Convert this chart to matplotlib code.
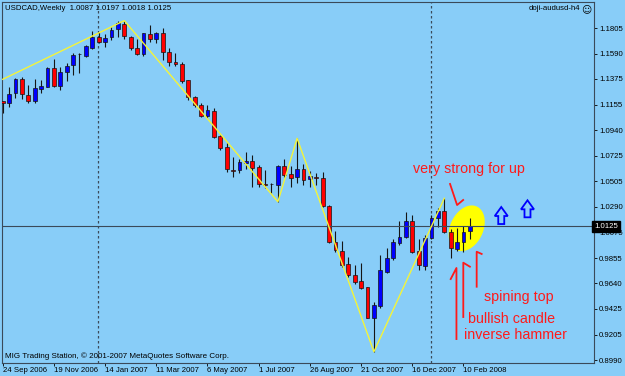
import matplotlib
matplotlib.use("Agg")
import matplotlib.pyplot as plt
from matplotlib.patches import Polygon
import numpy as np

plt.rcParams['font.family'] = ['Liberation Sans', 'DejaVu Sans']

# USDCAD weekly bars, 24 Sep 2006 .. 17 Feb 2008
opens = [1.1184, 1.1174, 1.1253, 1.1372, 1.1239, 1.1188, 1.1292, 1.1309, 1.1465, 1.1318,
         1.1432, 1.1494, 1.1583, 1.1570, 1.1635, 1.1729, 1.1686, 1.1729, 1.1797, 1.1841,
         1.1729, 1.1635, 1.1584, 1.1757, 1.1717, 1.1763, 1.1606, 1.1522, 1.1502, 1.1362,
         1.1219, 1.1154, 1.1063, 1.1106, 1.0894, 1.0795, 1.0602, 1.0602, 1.0659, 1.0679,
         1.0630, 1.0484, 1.0482, 1.0475, 1.0639, 1.0566, 1.0539, 1.0608, 1.0524, 1.0545,
         1.0537, 1.0299, 0.9989, 0.9918, 0.9802, 0.9711, 0.9663, 0.9607, 0.9349, 0.9451,
         0.9739, 0.9853, 0.9985, 1.0036, 1.0170, 0.9915, 0.9790, 1.0023, 1.0198, 1.0254,
         1.0074, 0.9932, 0.9989, 1.0087]
highs = [1.1191, 1.1304, 1.1381, 1.1394, 1.1324, 1.1372, 1.1366, 1.1474, 1.1542, 1.1474,
         1.1508, 1.1593, 1.1593, 1.1663, 1.1785, 1.1776, 1.1757, 1.1813, 1.1867, 1.1870,
         1.1740, 1.1712, 1.1768, 1.1829, 1.1776, 1.1808, 1.1635, 1.1593, 1.1522, 1.1366,
         1.1230, 1.1168, 1.1154, 1.1126, 1.0899, 1.0829, 1.0710, 1.0693, 1.0753, 1.0730,
         1.0645, 1.0602, 1.0495, 1.0645, 1.0693, 1.0636, 1.0871, 1.0652, 1.0594, 1.0574,
         1.0583, 1.0305, 1.0085, 1.0000, 0.9867, 0.9796, 0.9811, 0.9612, 0.9485, 0.9881,
         0.9943, 1.0017, 1.0170, 1.0243, 1.0221, 1.0017, 1.0051, 1.0221, 1.0282, 1.0362,
         1.0102, 1.0113, 1.0130, 1.0197]
lows = [1.1084, 1.1140, 1.1211, 1.1202, 1.1174, 1.1168, 1.1253, 1.1304, 1.1304, 1.1281,
        1.1358, 1.1409, 1.1423, 1.1564, 1.1627, 1.1678, 1.1644, 1.1706, 1.1734, 1.1712,
        1.1621, 1.1578, 1.1572, 1.1689, 1.1678, 1.1536, 1.1488, 1.1488, 1.1338, 1.1197,
        1.1135, 1.1055, 1.1041, 1.0871, 1.0772, 1.0588, 1.0545, 1.0580, 1.0611, 1.0461,
        1.0461, 1.0447, 1.0405, 1.0333, 1.0540, 1.0461, 1.0492, 1.0479, 1.0461, 1.0475,
        1.0291, 0.9980, 0.9909, 0.9782, 0.9697, 0.9632, 0.9592, 0.9344, 0.9060, 0.9429,
        0.9726, 0.9839, 0.9966, 1.0023, 0.9895, 0.9754, 0.9754, 1.0017, 1.0121, 1.0065,
        0.9858, 0.9915, 0.9909, 1.0018]
closes = [1.1171, 1.1247, 1.1372, 1.1247, 1.1191, 1.1296, 1.1315, 1.1465, 1.1315, 1.1432,
          1.1488, 1.1576, 1.1585, 1.1655, 1.1729, 1.1686, 1.1723, 1.1791, 1.1847, 1.1740,
          1.1635, 1.1587, 1.1763, 1.1712, 1.1763, 1.1600, 1.1516, 1.1500, 1.1360, 1.1225,
          1.1154, 1.1063, 1.1112, 1.0885, 1.0792, 1.0611, 1.0594, 1.0673, 1.0679, 1.0622,
          1.0484, 1.0475, 1.0486, 1.0639, 1.0557, 1.0537, 1.0608, 1.0518, 1.0551, 1.0532,
          1.0297, 0.9994, 0.9923, 0.9796, 0.9711, 0.9654, 0.9604, 0.9349, 0.9457, 0.9754,
          0.9858, 0.9989, 1.0034, 1.0170, 0.9904, 0.9796, 1.0023, 1.0193, 1.0254, 1.0074,
          0.9938, 0.9989, 1.0079, 1.0125]

date_labels = ["24 Sep 2006", "19 Nov 2006", "14 Jan 2007", "11 Mar 2007", "6 May 2007",
               "1 Jul 2007", "26 Aug 2007", "21 Oct 2007", "16 Dec 2007", "10 Feb 2008"]
price_ticks = [1.1805, 1.1590, 1.1375, 1.1155, 1.0940, 1.0725, 1.0505, 1.0290,
               1.0075, 0.9855, 0.9640, 0.9425, 0.9205, 0.8990]

# zigzag indicator vertices (bar index, price)
zz_idx = [0, 19, 43, 46, 58, 69]
zz_val = [1.1372, 1.1870, 1.0333, 1.0871, 0.9060, 1.0362]

year_starts = [15, 67]   # period separators
last_price = 1.0125

bg = '#88cdf8'
frame = '#3a4a5a'

W, H = 625, 376
fig = plt.figure(figsize=(W / 100, H / 100), dpi=100, facecolor=bg)
ax_l, ax_r, ax_t, ax_b = 1.7, 594.3, 2.0, 362.5
ax = fig.add_axes([ax_l / W, 1 - ax_b / H, (ax_r - ax_l) / W, (ax_b - ax_t) / H])
ax.set_facecolor(bg)
ax.set_xlim(-0.156, 92.44)
ax.set_ylim(0.8969, 1.2028)

# px -> data scale, for drawing shapes in screen proportions
sx = (92.44 + 0.156) / (ax_r - ax_l)
sy = (1.2028 - 0.8969) / (ax_b - ax_t)

# highlight ellipse behind the last candles
t = np.linspace(0, 2 * np.pi, 100)
a, b, ang = 24, 16.5, np.radians(65)
ex = a * np.cos(t) * np.cos(ang) - b * np.sin(t) * np.sin(ang)
ey = a * np.cos(t) * np.sin(ang) + b * np.sin(t) * np.cos(ang)
ax.fill(72.5 + ex * sx, 1.0108 + ey * sy, color='#ffff00', lw=0, zorder=1)

# separators and bid line
for xs in year_starts:
    ax.axvline(xs - 0.15, color=frame, lw=0.9, ls=(0, (2, 2)), zorder=2)
ax.axhline(last_price, color=frame, lw=0.8, zorder=4)

# candles
x = np.arange(len(opens))
o = np.array(opens); c = np.array(closes)
up = c >= o
ax.vlines(x, lows, highs, color='#151515', lw=0.8, zorder=3)
ax.bar(x, np.abs(c - o), bottom=np.minimum(o, c), width=0.62,
       color=np.where(up, '#0000ff', '#ff0000'), edgecolor='#151515', lw=0.5, zorder=3)

# zigzag
ax.plot(zz_idx, zz_val, color='#f4f43a', lw=1.0, zorder=5)

# blue hollow up arrows
shape = np.array([(-3, 0), (3, 0), (3, 8), (6.5, 8), (0, 17), (-6.5, 8), (-3, 8)])
for ax_x, base in [(77.9, 1.0144), (82.0, 1.0201)]:
    pts = np.column_stack([ax_x + shape[:, 0] * sx, base + shape[:, 1] * sy])
    ax.add_patch(Polygon(pts, closed=True, fill=False, ec='#0000ff', lw=1.3, zorder=6))

# red hand-drawn marks
red = '#ff1a1a'
ax.plot([69.9, 71.0, 71.95], [1.0484, 1.0305, 1.0348], color=red, lw=1.3, zorder=6)
ax.plot([70.0, 70.9, 70.9], [0.9677, 0.9771, 0.9168], color=red, lw=1.3, zorder=6)
ax.plot([73.0, 71.97, 71.97], [0.9782, 0.9816, 0.9355], color=red, lw=1.3, zorder=6)
ax.plot([74.84, 74.06, 74.06], [0.9890, 0.9909, 0.9612], color=red, lw=1.3, zorder=6)

ax.text(64.1, 1.0574, "very strong for up", color=red, fontsize=10.3, va='baseline', zorder=7)
ax.text(75.2, 0.9491, "spining top", color=red, fontsize=10.3, va='baseline', zorder=7)
ax.text(72.7, 0.9301, "bullish candle", color=red, fontsize=10.3, va='baseline', zorder=7)
ax.text(72.1, 0.9166, "inverse hammer", color=red, fontsize=10.3, va='baseline', zorder=7)

# axes styling
for s in ax.spines.values():
    s.set_color(frame)
    s.set_linewidth(0.8)
ax.yaxis.tick_right()
ax.set_yticks(price_ticks)
ax.set_yticklabels([f"{v:.4f}" for v in price_ticks])
ax.set_xticks(np.arange(0, 8 * len(date_labels), 8))
ax.set_xticklabels(date_labels, ha='left')
ax.tick_params(axis='both', labelsize=5.6, length=2.2, width=0.6, color='black', pad=1.2)

ax.text(1.0, last_price, f"{last_price:.4f}", transform=ax.get_yaxis_transform(),
        color='white', fontsize=5.6, va='center', ha='left', zorder=8,
        bbox=dict(boxstyle='square,pad=0.25', fc='black', ec='black'))

fig.text(5 / W, 1 - 8.5 / H, "USDCAD,Weekly  1.0087 1.0197 1.0018 1.0125",
         fontsize=5.6, va='center', ha='left')
fig.text(580 / W, 1 - 9 / H, "doji-audusd-h4", fontsize=5.6, va='center', ha='right')
fig.text(586 / W, 1 - 9 / H, "\u263a", fontsize=7, va='center', ha='center', family=['DejaVu Sans'])
fig.text(5 / W, 1 - 356 / H, "MIG Trading Station, \u00a9 2001-2007 MetaQuotes Software Corp.",
         fontsize=5.8, va='center', ha='left')

fig.savefig("out.png", dpi=100, facecolor=bg)
